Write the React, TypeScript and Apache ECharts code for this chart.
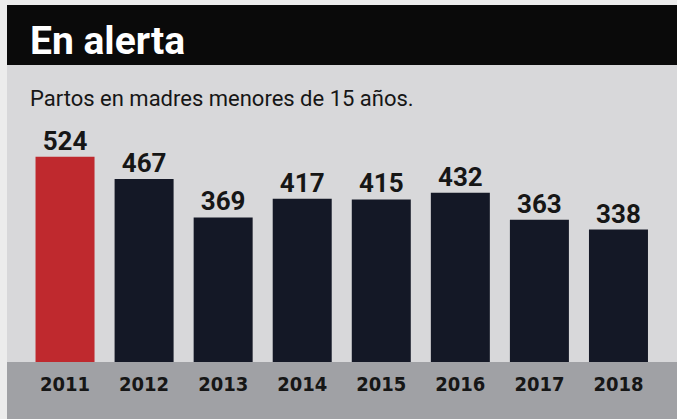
import React, { useEffect, useRef } from "react";
import * as echarts from "echarts";

const years = ["2011", "2012", "2013", "2014", "2015", "2016", "2017", "2018"];
const births = [524, 467, 369, 417, 415, 432, 363, 338];
const highlightYear = "2011";
const titleText = "En alerta";
const subtitleText = "Partos en madres menores de 15 años.";

const RED = "#bf292e";
const NAVY = "#141826";
const INK = "#161616";
const NARROW = "'Liberation Sans Narrow', 'DejaVu Sans Condensed', Roboto, sans-serif";

export default function App() {
  const ref = useRef<HTMLDivElement>(null);
  useEffect(() => {
    if (!ref.current) return;
    const chart = echarts.init(ref.current, null, { renderer: "svg" });
    chart.setOption({
      animation: false,
      backgroundColor: "#ececec",
      graphic: [
        { type: "rect", z: -10, shape: { x: 7, y: 5, width: 670, height: 414 }, style: { fill: "#d8d8da" } },
        { type: "rect", z: -9, shape: { x: 7, y: 5, width: 670, height: 60 }, style: { fill: "#0a0a0a" } },
        { type: "rect", z: -9, shape: { x: 7, y: 362, width: 670, height: 57 }, style: { fill: "#a0a1a5" } },
        {
          type: "text",
          z: 10,
          x: 30,
          y: 41,
          style: {
            text: titleText,
            fill: "#ffffff",
            fontFamily: "Roboto, sans-serif",
            fontWeight: "bold",
            fontSize: 39,
            verticalAlign: "middle",
          },
        },
        {
          type: "text",
          z: 10,
          x: 30,
          y: 98,
          style: {
            text: subtitleText,
            fill: INK,
            fontFamily: "Roboto, sans-serif",
            fontSize: 22,
            verticalAlign: "middle",
          },
        },
      ],
      grid: { left: 25.5, right: 19, top: 127, bottom: 57, containLabel: false },
      xAxis: {
        type: "category",
        data: years,
        axisLine: { show: false },
        axisTick: { show: false },
        axisLabel: {
          color: INK,
          fontFamily: NARROW,
          fontWeight: "bold",
          fontSize: 20,
          margin: 12,
        },
      },
      yAxis: {
        type: "value",
        min: 0,
        max: 600,
        show: false,
        splitLine: { show: false },
      },
      series: [
        {
          type: "bar",
          barWidth: 59,
          data: years.map((y, i) => ({
            value: births[i],
            itemStyle: { color: y === highlightYear ? RED : NAVY },
          })),
          label: {
            show: true,
            position: "top",
            distance: 3,
            color: INK,
            fontFamily: "Roboto, sans-serif",
            fontWeight: "bold",
            fontSize: 26,
          },
        },
      ],
    });
    return () => chart.dispose();
  }, []);
  return (
    <div
      ref={ref}
      style={{ position: "fixed", left: 0, top: 0, width: 677, height: 419 }}
    />
  );
}
